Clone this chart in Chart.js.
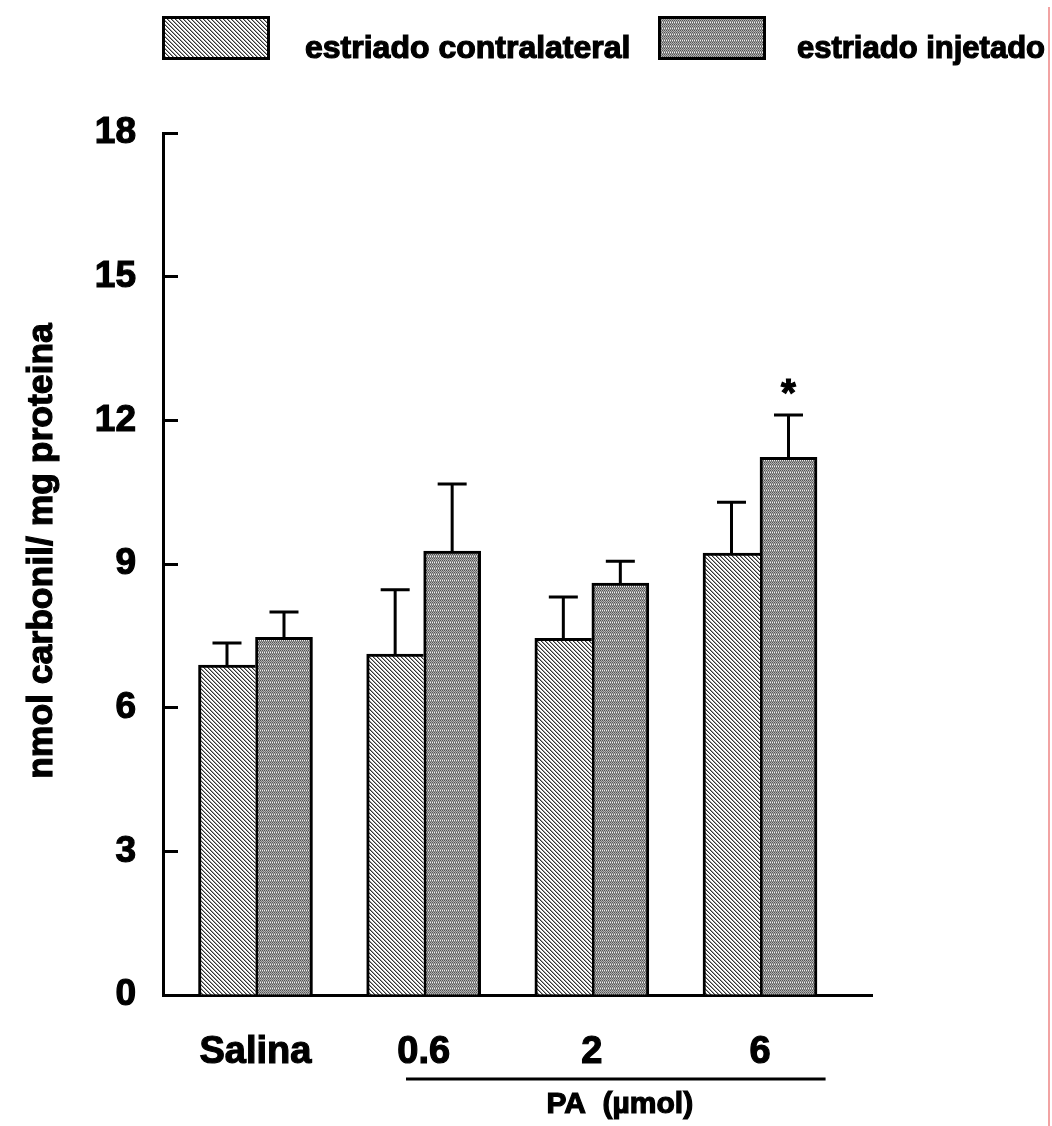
<!DOCTYPE html>
<html>
<head>
<meta charset="utf-8">
<script src="https://cdn.jsdelivr.net/npm/chart.js@4.4.0/dist/chart.umd.min.js"></script>
<style>
body { margin: 0; background: #fff; }
#wrap { position: relative; width: 1052px; height: 1126px; }
#edge { position: absolute; left: 1048px; top: 7px; width: 2px; height: 1119px; background: #f2a3a3; }
</style>
</head>
<body>
<div id="wrap">
  <canvas id="chart" width="1052" height="1126"></canvas>
  <div id="edge"></div>
</div>
<script>
// dados
const categories = ['Salina', '0.6', '2', '6'];
const seriesNames = ['estriado contralateral', 'estriado injetado'];
const contraMeans = [6.89, 7.12, 7.45, 9.23];
const contraErrors = [0.46, 1.34, 0.86, 1.06];
const injMeans = [7.47, 9.27, 8.60, 11.23];
const injErrors = [0.53, 1.40, 0.46, 0.88];
const injStars = ['', '', '', '*'];
const yTicks = [0, 3, 6, 9, 12, 15, 18];
const yTitle = 'nmol carbonil/ mg proteina';
const groupLabel = 'PA  (µmol)';

const FONT = '"Liberation Sans", Arial, Helvetica, sans-serif';
const ctx = document.getElementById('chart').getContext('2d');

function makePattern(kind) {
    let tile = document.createElement('canvas');
    let p = tile.getContext('2d');
    if (kind === 'diag') {
        tile.width = 4; tile.height = 4;
        p.fillStyle = '#ffffff';
        p.fillRect(0, 0, 4, 4);
        for (let i = 0; i < 4; i++) {
            p.fillStyle = '#333333';
            p.fillRect(i, i, 1, 1);
            p.fillStyle = '#a0a0a0';
            p.fillRect((i + 1) % 4, i, 1, 1);
        }
    } else {
        tile.width = 4; tile.height = 6;
        const rows = [
            ['#555', '#b0b0b0', '#555', '#b0b0b0'],
            ['#b0b0b0', '#777', '#b0b0b0', '#777'],
            ['#555', '#b0b0b0', '#555', '#b0b0b0'],
            ['#b0b0b0', '#777', '#b0b0b0', '#777'],
            ['#f0f0f0', '#666', '#f0f0f0', '#666'],
            ['#999', '#777', '#999', '#777']
        ];
        rows.forEach((row, y) => row.forEach((c, x) => {
            p.fillStyle = c;
            p.fillRect(x, y, 1, 1);
        }));
    }
    return ctx.createPattern(tile, 'repeat');
}

const contraFill = makePattern('diag');
const injFill = makePattern('dots');

// texto em negrito "pesado", como no original
function boldText(c, txt, x, y, size) {
    c.font = 'bold ' + size + 'px ' + FONT;
    c.fillStyle = '#000';
    c.strokeStyle = '#000';
    c.lineWidth = 1.2;
    c.fillText(txt, x, y);
    c.strokeText(txt, x, y);
}

// barras de erro (so para cima), asterisco, legenda, titulo y e chave do eixo x
const extrasPlugin = {
    id: 'extras',
    afterDatasetsDraw(chart) {
        const c = chart.ctx;
        const y = chart.scales.y;
        const x = chart.scales.x;
        c.save();
        chart.data.datasets.forEach((ds, i) => {
            chart.getDatasetMeta(i).data.forEach((bar, j) => {
                const top = y.getPixelForValue(ds.means[j] + ds.errors[j]);
                c.strokeStyle = '#000';
                c.lineWidth = 3;
                c.beginPath();
                c.moveTo(bar.x, bar.y);
                c.lineTo(bar.x, top);
                c.moveTo(bar.x - 14.5, top);
                c.lineTo(bar.x + 14.5, top);
                c.stroke();
                if (ds.stars && ds.stars[j]) {
                    c.textAlign = 'center';
                    c.textBaseline = 'alphabetic';
                    boldText(c, ds.stars[j], bar.x, top - 9, 38);
                }
            });
        });

        // legenda
        const boxes = [{ bx: 162, tx: 305 }, { bx: 658, tx: 797 }];
        chart.data.datasets.forEach((ds, i) => {
            const b = boxes[i];
            c.fillStyle = '#000';
            c.fillRect(b.bx, 16, 108, 44);
            c.fillStyle = ds.backgroundColor;
            c.fillRect(b.bx + 3, 19, 102, 38);
            c.textAlign = 'left';
            c.textBaseline = 'alphabetic';
            boldText(c, ds.label, b.tx, 58, i === 0 ? 32 : 31);
        });

        // titulo do eixo y
        c.save();
        c.translate(42, 551);
        c.rotate(-Math.PI / 2);
        c.textAlign = 'center';
        c.textBaseline = 'middle';
        boldText(c, yTitle, 0, 0, 35.5);
        c.restore();

        // chave PA (umol)
        const x1 = x.getPixelForValue(0.895);
        const x2 = x.getPixelForValue(3.39);
        c.beginPath();
        c.strokeStyle = '#000';
        c.lineWidth = 3;
        c.moveTo(x1, 1079);
        c.lineTo(x2, 1079);
        c.stroke();
        c.textAlign = 'center';
        c.textBaseline = 'alphabetic';
        boldText(c, groupLabel, (x1 + x2) / 2 + 4, 1113, 30);
        c.restore();
    }
};

new Chart(ctx, {
    type: 'bar',
    data: {
        datasets: [{
            label: seriesNames[0],
            data: contraMeans.map((v, i) => ({ x: i, y: v })),
            means: contraMeans,
            errors: contraErrors,
            backgroundColor: contraFill,
            borderColor: '#000',
            borderWidth: { top: 3, left: 3, right: 0, bottom: 0 },
            borderSkipped: false,
            barThickness: 57
        }, {
            label: seriesNames[1],
            data: injMeans.map((v, i) => ({ x: i, y: v })),
            means: injMeans,
            errors: injErrors,
            stars: injStars,
            backgroundColor: injFill,
            borderColor: '#000',
            borderWidth: { top: 3, left: 3, right: 3, bottom: 0 },
            borderSkipped: false,
            barThickness: 57
        }]
    },
    options: {
        responsive: false,
        animation: false,
        devicePixelRatio: 1,
        layout: { padding: { top: 133, right: 180, left: 0, bottom: 0 } },
        plugins: {
            legend: { display: false },
            tooltip: { enabled: false }
        },
        scales: {
            x: {
                type: 'linear',
                offset: false,
                min: -0.55,
                max: 3.666,
                afterBuildTicks: (scale) => {
                    scale.ticks = categories.map((_, i) => ({ value: i }));
                },
                afterFit: (scale) => { scale.height = 131; },
                grid: { display: false, drawTicks: false, offset: false },
                border: { display: true, color: '#000', width: 3 },
                ticks: {
                    autoSkip: false,
                    maxRotation: 0,
                    padding: 35,
                    color: '#000',
                    textStrokeColor: '#000',
                    textStrokeWidth: 1.2,
                    font: { family: FONT, size: 38, weight: 'bold' },
                    callback: (v) => categories[Math.round(v)]
                }
            },
            y: {
                min: 0,
                max: 18,
                afterBuildTicks: (scale) => {
                    scale.ticks = yTicks.map(v => ({ value: v }));
                },
                afterFit: (scale) => { scale.width = 163; },
                grid: {
                    drawOnChartArea: false,
                    drawTicks: true,
                    tickLength: -15,
                    tickWidth: 3,
                    tickColor: '#000'
                },
                border: { display: true, color: '#000', width: 3 },
                ticks: {
                    padding: 42,
                    color: '#000',
                    textStrokeColor: '#000',
                    textStrokeWidth: 1.2,
                    font: { family: FONT, size: 37, weight: 'bold' }
                }
            }
        }
    },
    plugins: [extrasPlugin]
});
</script>
</body>
</html>
